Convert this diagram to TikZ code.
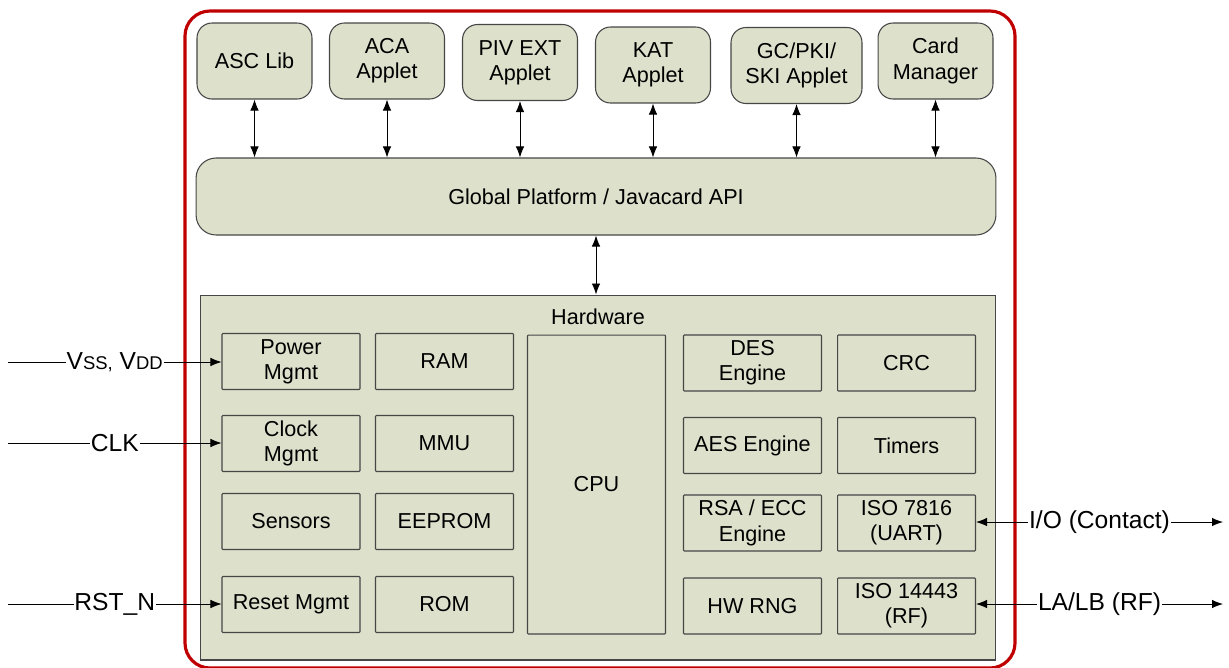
\documentclass[tikz,border=0pt]{standalone}
\usepackage{fontspec}
\setmainfont{Liberation Sans}
\usetikzlibrary{arrows.meta}
\definecolor{boxfill}{RGB}{221,224,203}
\definecolor{boxline}{RGB}{70,70,70}
\definecolor{cardred}{RGB}{192,0,0}

\begin{document}
\begin{tikzpicture}[x=0.02cm,y=-0.02cm,
  font=\fontsize{12.3}{14.4}\selectfont,
  applet/.style={draw=boxline,fill=boxfill,rounded corners=0.3cm,line width=0.6pt,
    minimum width=2.3cm,minimum height=1.52cm,align=center,inner sep=1pt},
  blk/.style={draw=boxline,fill=boxfill,rounded corners=0.5pt,line width=0.6pt,
    minimum width=2.76cm,minimum height=1.12cm,align=center,inner sep=1pt},
  dbl/.style={{Latex[length=0.22cm,width=0.17cm]}-{Latex[length=0.22cm,width=0.17cm]},line width=0.5pt},
  sig/.style={-{Latex[length=0.22cm,width=0.17cm]},line width=0.4pt},
  lbl/.style={fill=white,inner sep=0.5pt,font=\fontsize{14}{16}\selectfont}]
\useasboundingbox (0,0) rectangle (1229,667);
\draw[cardred,line width=1.8pt,rounded corners=0.5cm] (185,11) rectangle (1015,668);

\node[applet] (asc) at (254.5,61) {ASC Lib};
\node[applet] (aca) at (387,61) {ACA\\Applet};
\node[applet] (piv) at (520,62.5) {PIV EXT\\Applet};
\node[applet] (kat) at (653,65) {KAT\\Applet};
\node[applet,minimum width=2.62cm] (gc) at (796.5,65.5) {GC/PKI/\\SKI Applet};
\node[applet] (cm) at (935.5,61) {Card\\Manager};

\node[applet,minimum width=16cm,minimum height=1.54cm,rounded corners=0.4cm] (api) at (596,196.5)
  {Global Platform / Javacard API};
\foreach \a in {asc,aca,piv,kat,gc,cm}
  \draw[dbl] (\a.south) -- (\a.south |- api.north);

\node[draw=boxline,fill=boxfill,line width=0.6pt,minimum width=15.92cm,minimum height=7.3cm]
  (hw) at (598,477.5) {};
\node (hwlbl) at (598,317) {Hardware};
\draw[dbl] (api.south) -- (api.south |- hw.north);

\node[blk] (pwr) at (291,361.5) {Power\\Mgmt};
\node[blk] (clk) at (291,443.5) {Clock\\Mgmt};
\node[blk] (sens) at (291,521.5) {Sensors};
\node[blk] (rst) at (291,604.5) {Reset Mgmt};
\node[blk] (ram) at (444.5,361.5) {RAM};
\node[blk] (mmu) at (444.5,443.5) {MMU};
\node[blk] (eep) at (444.5,521.5) {EEPROM};
\node[blk] (rom) at (444.5,604.5) {ROM};
\node[blk,minimum height=5.98cm] (cpu) at (596.5,484.5) {CPU};
\node[blk] (des) at (752.5,363) {DES\\Engine};
\node[blk] (aes) at (752.5,445.5) {AES Engine};
\node[blk] (rsa) at (752.5,523) {RSA / ECC\\Engine};
\node[blk] (rng) at (752.5,606) {HW RNG};
\node[blk] (crc) at (906.5,363) {CRC};
\node[blk] (tmr) at (906.5,445.5) {Timers};
\node[blk] (uart) at (906.5,523) {ISO 7816\\(UART)};
\node[blk] (rf) at (906.5,606) {ISO 14443\\(RF)};

\coordinate (vin) at (8,362);
\coordinate (clkin) at (8,443);
\coordinate (rstin) at (8,604);
\coordinate (ioout) at (1223,522);
\coordinate (rfout) at (1223,604);
\draw[sig] (vin) -- node[lbl]{V{\fontsize{10.5}{12}\selectfont SS,} V{\fontsize{10.5}{12}\selectfont DD}} (pwr.west |- vin);
\draw[sig] (clkin) -- node[lbl]{CLK} (clk.west |- clkin);
\draw[sig] (rstin) -- node[lbl]{RST\_N} (rst.west |- rstin);
\draw[dbl] (uart.east |- ioout) -- node[lbl]{I/O (Contact)} (ioout);
\draw[dbl] (rf.east |- rfout) -- node[lbl]{LA/LB (RF)} (rfout);
\end{tikzpicture}
\end{document}
